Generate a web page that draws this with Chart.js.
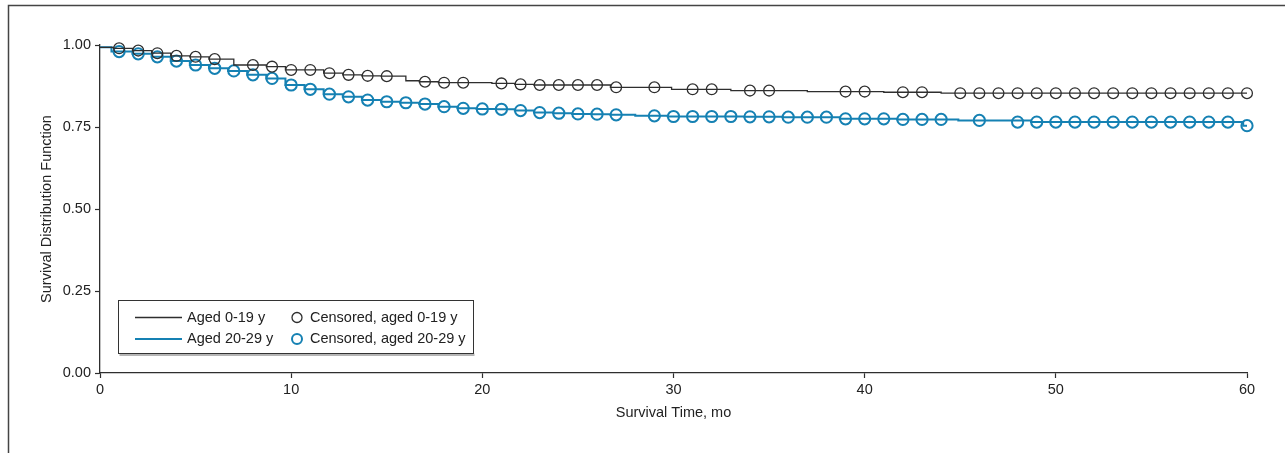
<!DOCTYPE html>
<html lang="en">
    <head>
        <meta charset="utf-8" />
        <title>Survival Distribution Function</title>
        <style>
            body { margin: 0; background: #fff; }
            #wrap { width: 1285px; height: 453px; }
        </style>
    </head>
    <body>
        <div id="wrap">
            <canvas id="km" width="1285" height="453"></canvas>
        </div>

        <script src="https://cdn.jsdelivr.net/npm/chart.js@4.4.1/dist/chart.umd.min.js"></script>

        <script>
            // tick labels
            const xTicks = [0, 10, 20, 30, 40, 50, 60];
            const yTicks = [0, 0.25, 0.5, 0.75, 1.0];

            // aged 0-19 y: step curve (time the level starts, survival)
            const youngStepT = [0, 0.7, 1.7, 2.7, 3.7, 4.7, 5.7, 7.0, 8.7, 9.7, 11.7, 12.7, 13.7, 14.7, 16.0, 16.7, 17.7, 20.5, 21.7, 22.7, 26.7, 29.9, 33.0, 37.0, 41.0, 44.0, 60];
            const youngStepS = [0.993, 0.990, 0.983, 0.975, 0.967, 0.964, 0.957, 0.939, 0.934, 0.924, 0.914, 0.909, 0.906, 0.905, 0.891, 0.888, 0.885, 0.883, 0.880, 0.878, 0.871, 0.865, 0.861, 0.858, 0.856, 0.853, 0.853];
            // aged 0-19 y: censored marks
            const youngCensT = [1, 2, 3, 4, 5, 6, 8, 9, 10, 11, 12, 13, 14, 15, 17, 18, 19, 21, 22, 23, 24, 25, 26, 27, 29, 31, 32, 34, 35, 39, 40, 42, 43, 45, 46, 47, 48, 49, 50, 51, 52, 53, 54, 55, 56, 57, 58, 59, 60];
            const youngCensS = [0.990, 0.983, 0.975, 0.967, 0.964, 0.957, 0.939, 0.934, 0.924, 0.924, 0.914, 0.909, 0.906, 0.905, 0.888, 0.885, 0.885, 0.883, 0.880, 0.878, 0.878, 0.878, 0.878, 0.871, 0.871, 0.865, 0.865, 0.861, 0.861, 0.858, 0.858, 0.856, 0.856, 0.853, 0.853, 0.853, 0.853, 0.853, 0.853, 0.853, 0.853, 0.853, 0.853, 0.853, 0.853, 0.853, 0.853, 0.853, 0.853];

            // aged 20-29 y: step curve
            const olderStepT = [0, 0.6, 1.7, 2.7, 3.7, 4.7, 5.7, 6.7, 7.7, 8.7, 9.7, 10.7, 11.7, 12.7, 13.7, 14.7, 15.7, 16.7, 17.7, 18.7, 19.7, 20.7, 21.7, 22.7, 23.7, 24.7, 25.7, 26.7, 28.0, 29.7, 33.7, 35.7, 38.7, 41.7, 44.9, 48.7, 59.8, 60];
            const olderStepS = [0.993, 0.980, 0.973, 0.964, 0.951, 0.939, 0.929, 0.921, 0.909, 0.898, 0.878, 0.865, 0.850, 0.842, 0.832, 0.827, 0.824, 0.820, 0.812, 0.807, 0.805, 0.804, 0.800, 0.794, 0.792, 0.790, 0.789, 0.787, 0.784, 0.782, 0.781, 0.780, 0.775, 0.773, 0.770, 0.765, 0.754, 0.754];
            // aged 20-29 y: censored marks
            const olderCensT = [1, 2, 3, 4, 5, 6, 7, 8, 9, 10, 11, 12, 13, 14, 15, 16, 17, 18, 19, 20, 21, 22, 23, 24, 25, 26, 27, 29, 30, 31, 32, 33, 34, 35, 36, 37, 38, 39, 40, 41, 42, 43, 44, 46, 48, 49, 50, 51, 52, 53, 54, 55, 56, 57, 58, 59, 60];
            const olderCensS = [0.980, 0.973, 0.964, 0.951, 0.939, 0.929, 0.921, 0.909, 0.898, 0.878, 0.865, 0.850, 0.842, 0.832, 0.827, 0.824, 0.820, 0.812, 0.807, 0.805, 0.804, 0.800, 0.794, 0.792, 0.790, 0.789, 0.787, 0.784, 0.782, 0.782, 0.782, 0.782, 0.781, 0.781, 0.780, 0.780, 0.780, 0.775, 0.775, 0.775, 0.773, 0.773, 0.773, 0.770, 0.765, 0.765, 0.765, 0.765, 0.765, 0.765, 0.765, 0.765, 0.765, 0.765, 0.765, 0.765, 0.754];

            const BLACK = "#2e2e2e";
            const BLUE = "#1581b3";
            const FONT = '"Liberation Sans", Arial, sans-serif';
            const FSIZE = 14.5;

            function pts(xs, ys) {
                return xs.map((x, i) => ({ x: x, y: ys[i] }));
            }

            // frame round the figure and the boxed legend
            const extras = {
                id: "extras",
                afterDraw(chart) {
                    const ctx = chart.ctx;
                    ctx.save();
                    ctx.strokeStyle = "#444";
                    ctx.lineWidth = 1.5;
                    ctx.beginPath();
                    ctx.moveTo(8.5, 453);
                    ctx.lineTo(8.5, 5.5);
                    ctx.lineTo(1285, 5.5);
                    ctx.stroke();

                    // legend
                    const bx = 118.5, by = 300.5, bw = 355, bh = 53;
                    ctx.fillStyle = "#b5b5b5";
                    ctx.fillRect(bx + 1, by + bh, bw, 2.5);
                    ctx.fillStyle = "#fff";
                    ctx.fillRect(bx, by, bw, bh);
                    ctx.strokeStyle = "#333";
                    ctx.lineWidth = 1;
                    ctx.strokeRect(bx, by, bw, bh);

                    const rows = [
                        { y: 317.5, color: BLACK, lw: 1.3, label: "Aged 0-19 y", cens: "Censored, aged 0-19 y" },
                        { y: 339, color: BLUE, lw: 2, label: "Aged 20-29 y", cens: "Censored, aged 20-29 y" },
                    ];
                    ctx.font = FSIZE + "px " + FONT;
                    ctx.textBaseline = "middle";
                    rows.forEach((r) => {
                        ctx.strokeStyle = r.color;
                        ctx.lineWidth = r.lw;
                        ctx.beginPath();
                        ctx.moveTo(135, r.y);
                        ctx.lineTo(182, r.y);
                        ctx.stroke();
                        ctx.beginPath();
                        ctx.arc(297, r.y, 5, 0, Math.PI * 2);
                        ctx.stroke();
                        ctx.fillStyle = "#222";
                        ctx.fillText(r.label, 187, r.y);
                        ctx.fillText(r.cens, 310, r.y);
                    });
                    ctx.restore();
                },
            };

            new Chart(document.getElementById("km").getContext("2d"), {
                type: "line",
                data: {
                    datasets: [
                        {
                            label: "Aged 0-19 y",
                            data: pts(youngStepT, youngStepS),
                            stepped: true,
                            borderColor: BLACK,
                            borderWidth: 1.3,
                            pointRadius: 0,
                            fill: false,
                            clip: false,
                        },
                        {
                            label: "Censored, aged 0-19 y",
                            data: pts(youngCensT, youngCensS),
                            showLine: false,
                            pointRadius: 5.4,
                            pointBorderWidth: 1.3,
                            pointBorderColor: BLACK,
                            pointBackgroundColor: "rgba(0,0,0,0)",
                            clip: false,
                        },
                        {
                            label: "Aged 20-29 y",
                            data: pts(olderStepT, olderStepS),
                            stepped: true,
                            borderColor: BLUE,
                            borderWidth: 2,
                            pointRadius: 0,
                            fill: false,
                            clip: false,
                        },
                        {
                            label: "Censored, aged 20-29 y",
                            data: pts(olderCensT, olderCensS),
                            showLine: false,
                            pointRadius: 5.6,
                            pointBorderWidth: 2,
                            pointBorderColor: BLUE,
                            pointBackgroundColor: "rgba(0,0,0,0)",
                            clip: false,
                        },
                    ],
                },
                options: {
                    responsive: false,
                    animation: false,
                    devicePixelRatio: 1,
                    layout: { padding: { left: 8, right: 38, top: 45, bottom: 20 } },
                    plugins: {
                        legend: { display: false },
                        tooltip: { enabled: false },
                    },
                    scales: {
                        x: {
                            type: "linear",
                            min: 0,
                            max: 60,
                            afterBuildTicks: (s) => { s.ticks = xTicks.map((v) => ({ value: v })); },
                            afterFit: (s) => { s.height = 60; },
                            grid: { drawOnChartArea: false, tickLength: 5, color: BLACK, tickWidth: 1.2 },
                            border: { color: BLACK, width: 1.3 },
                            ticks: { color: "#222", font: { family: FONT, size: FSIZE }, padding: 3, maxRotation: 0 },
                            title: { display: true, text: "Survival Time, mo", color: "#222", font: { family: FONT, size: FSIZE }, padding: { top: 4, bottom: 11 } },
                        },
                        y: {
                            type: "linear",
                            min: 0,
                            max: 1,
                            afterBuildTicks: (s) => { s.ticks = yTicks.map((v) => ({ value: v })); },
                            afterFit: (s) => { s.width = 92; },
                            grid: { drawOnChartArea: false, tickLength: 5, color: BLACK, tickWidth: 1.2 },
                            border: { color: BLACK, width: 1.3 },
                            ticks: { color: "#222", font: { family: FONT, size: FSIZE }, padding: 4, callback: (v) => v.toFixed(2) },
                            title: { display: true, text: "Survival Distribution Function", color: "#222", font: { family: FONT, size: FSIZE }, padding: { top: 30, bottom: 0 } },
                        },
                    },
                },
                plugins: [extras],
            });
        </script>
    </body>
</html>
